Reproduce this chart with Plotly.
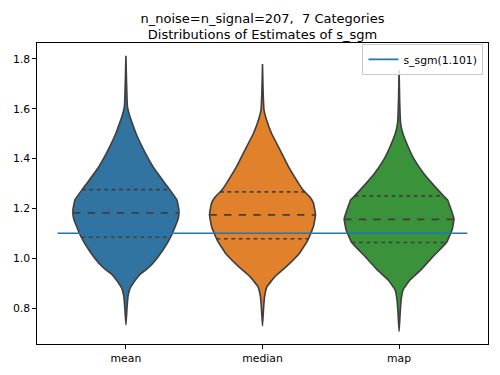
import numpy as np
import plotly.graph_objects as go

# ---- data ----
categories = ["mean", "median", "map"]
colors = ["#3274a1", "#e1812c", "#3a923a"]

# violin outlines: value levels (bottom -> top) and half-widths (category units)
mean_levels = [0.734, 0.794, 0.847, 0.874, 0.887, 0.927, 0.941, 0.954, 0.981, 1.034, 1.088,
               1.135, 1.163, 1.195, 1.235, 1.275, 1.302, 1.368, 1.435, 1.502, 1.535,
               1.569, 1.609, 1.716, 1.813]
mean_half = [0.0, 0.007, 0.015, 0.026, 0.037, 0.088, 0.113, 0.146, 0.198, 0.271, 0.329,
             0.366, 0.384, 0.388, 0.373, 0.322, 0.285, 0.198, 0.130, 0.073, 0.051,
             0.029, 0.011, 0.004, 0.0]

median_levels = [0.730, 0.794, 0.847, 0.887, 0.927, 0.968, 1.021, 1.075, 1.128, 1.175,
                 1.222, 1.248, 1.275, 1.302, 1.368, 1.435, 1.502, 1.556, 1.596, 1.676, 1.780]
median_half = [0.0, 0.007, 0.015, 0.033, 0.091, 0.176, 0.271, 0.333, 0.373, 0.388,
               0.373, 0.344, 0.296, 0.263, 0.190, 0.128, 0.066, 0.029, 0.011, 0.004, 0.0]

map_levels = [0.707, 0.774, 0.834, 0.874, 0.914, 0.954, 1.008, 1.064, 1.115, 1.159,
              1.208, 1.235, 1.248, 1.288, 1.342, 1.395, 1.448, 1.502, 1.543, 1.636, 1.756]
map_half = [0.0, 0.007, 0.015, 0.029, 0.080, 0.159, 0.249, 0.347, 0.388, 0.402,
            0.373, 0.355, 0.330, 0.263, 0.179, 0.113, 0.066, 0.027, 0.011, 0.004, 0.0]

# quartiles (25%, 50%, 75%)
mean_quartiles = [1.085, 1.183, 1.276]
median_quartiles = [1.079, 1.175, 1.267]
map_quartiles = [1.064, 1.157, 1.251]

true_value = 1.101
true_label = "s_sgm(1.101)"

y_ticks = [0.8, 1.0, 1.2, 1.4, 1.6, 1.8]
y_tick_labels = ["0.8", "1.0", "1.2", "1.4", "1.6", "1.8"]

# ---- figure ----
FONT = "DejaVu Sans"
EDGE = "#3f3f3f"
LW = 1.63

profiles = [(mean_levels, mean_half, mean_quartiles),
            (median_levels, median_half, median_quartiles),
            (map_levels, map_half, map_quartiles)]

fig = go.Figure()
for i, (lev, half, quart) in enumerate(profiles):
    lev = np.asarray(lev)
    half = np.asarray(half)
    xs = np.concatenate([i + half, (i - half)[::-1]])
    ys = np.concatenate([lev, lev[::-1]])
    fig.add_trace(go.Scatter(
        x=xs, y=ys, mode="lines", fill="toself", fillcolor=colors[i],
        line=dict(color=EDGE, width=LW, shape="spline", smoothing=0.3),
        showlegend=False, hoverinfo="skip", name=categories[i]))
    for k, q in enumerate(quart):
        hw = float(np.interp(q, lev, half))
        dash = "7.3px,7.3px" if k == 1 else "3.7px,3.7px"
        fig.add_trace(go.Scatter(
            x=[i - hw, i + hw], y=[q, q], mode="lines",
            line=dict(color=EDGE, width=LW, dash=dash),
            showlegend=False, hoverinfo="skip"))

fig.add_trace(go.Scatter(
    x=[-0.5, len(categories) - 0.5], y=[true_value, true_value], mode="lines",
    line=dict(color="#1f77b4", width=LW), name=true_label, showlegend=True))

axis_common = dict(showline=True, mirror=True, linecolor="black", linewidth=0.9,
                   ticks="outside", ticklen=3.8, tickwidth=0.9, tickcolor="black",
                   showgrid=False, zeroline=False, automargin=False,
                   tickfont=dict(family=FONT, size=10.8, color="black"))

fig.update_layout(
    width=500, height=375,
    margin=dict(l=37, r=12, t=43, b=31),
    paper_bgcolor="white", plot_bgcolor="white",
    font=dict(family=FONT, color="black"),
    title=dict(text="n_noise=n_signal=207,\u00a0 7 Categories<br>Distributions of Estimates of s_sgm",
               x=0.5, xref="paper", xanchor="center",
               y=1 - 22.5 / 375, yref="container", yanchor="middle",
               font=dict(family=FONT, size=13, color="black")),
    xaxis=dict(range=[-0.651, 2.651], tickmode="array", tickvals=list(range(len(categories))),
               ticktext=categories, **axis_common),
    yaxis=dict(range=[0.657, 1.864], tickmode="array", tickvals=y_ticks,
               ticktext=y_tick_labels, **axis_common),
    legend=dict(x=0.99, xanchor="right", y=0.997, yanchor="top",
                bgcolor="rgba(255,255,255,0.8)", bordercolor="#cccccc", borderwidth=1,
                font=dict(family=FONT, size=10.8, color="black"), itemwidth=30),
    showlegend=True,
)

fig.write_html("out.html", config={"displayModeBar": False},
               post_script="document.body.style.margin='0';document.body.style.padding='0';")
